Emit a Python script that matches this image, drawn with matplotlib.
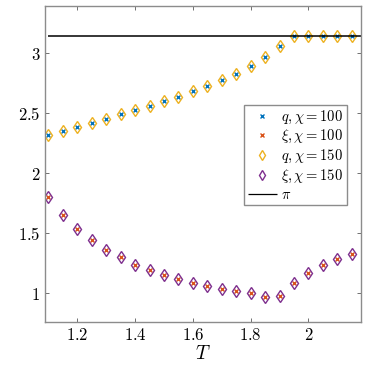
import numpy as np
import matplotlib
matplotlib.use("Agg")
import matplotlib.pyplot as plt

# temperatures and measured values
T = [1.10, 1.15, 1.20, 1.25, 1.30, 1.35, 1.40, 1.45, 1.50, 1.55, 1.60,
     1.65, 1.70, 1.75, 1.80, 1.85, 1.90, 1.95, 2.00, 2.05, 2.10, 2.15]
q_vals = [2.318, 2.351, 2.382, 2.418, 2.454, 2.490, 2.526, 2.563, 2.602, 2.638, 2.685,
          2.730, 2.777, 2.830, 2.894, 2.967, 3.064, 3.142, 3.142, 3.142, 3.142, 3.142]
xi_vals = [1.797, 1.649, 1.538, 1.443, 1.362, 1.298, 1.237, 1.189, 1.148, 1.117, 1.084,
           1.056, 1.033, 1.014, 1.000, 0.964, 0.972, 1.084, 1.170, 1.237, 1.281, 1.323]
xticks = [1.2, 1.4, 1.6, 1.8, 2.0]
xticklabels = ["1.2", "1.4", "1.6", "1.8", "2"]
yticks = [1.0, 1.5, 2.0, 2.5, 3.0]
yticklabels = ["1", "1.5", "2", "2.5", "3"]

plt.rcParams['mathtext.fontset'] = 'cm'
plt.rcParams['font.family'] = 'serif'
plt.rcParams['font.serif'] = ['DejaVu Serif']

fig = plt.figure(figsize=(3.74, 3.65), dpi=100)
ax = fig.add_axes([45/374, 1 - 322/365, 316/374, 316/365])

xmax = 2.182
ax.plot(T, q_vals, 'x', color='#0072BD', ms=3, mew=1.0, label=r'$q, \chi = 100$')
ax.plot(T, xi_vals, 'x', color='#D95319', ms=3, mew=1.0, label=r'$\xi, \chi = 100$')
ax.plot(T, q_vals, 'd', mfc='none', mec='#EDB120', ms=6.5, mew=1.0, label=r'$q, \chi = 150$')
ax.plot(T, xi_vals, 'd', mfc='none', mec='#7E2F8E', ms=6.5, mew=1.0, label=r'$\xi, \chi = 150$')
ax.hlines(np.pi, T[0], xmax, color='black', lw=1.1, label=r'$\pi$')

ax.set_xlim(1.088, xmax)
ax.set_ylim(0.758, 3.395)
ax.set_xticks(xticks)
ax.set_xticklabels(['$' + s + '$' for s in xticklabels], fontsize=12)
ax.set_yticks(yticks)
ax.set_yticklabels(['$' + s + '$' for s in yticklabels], fontsize=12)
ax.tick_params(direction='in', top=True, right=True, length=3, color='0.35', width=0.6)
for sp in ax.spines.values():
    sp.set_color('0.55')
    sp.set_linewidth(1.0)
ax.set_xlabel('$T$', fontsize=14, labelpad=1)

leg = ax.legend(loc='upper right', bbox_to_anchor=(0.956, 0.687), fontsize=10.5,
                fancybox=False, framealpha=1, edgecolor='0.55', handlelength=2.0,
                handletextpad=0.3, borderpad=0.25, labelspacing=0.18, markerscale=0.75,
                borderaxespad=0)
leg.get_frame().set_linewidth(1.0)
leg.get_lines()[-1].set_linewidth(0.9)

fig.savefig("out.png", dpi=100)
